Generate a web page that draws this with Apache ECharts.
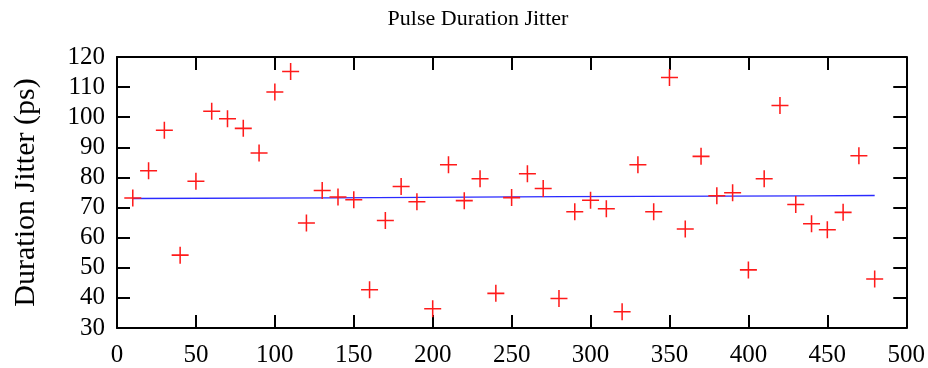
<!DOCTYPE html>
<html>
<head>
<meta charset="utf-8">
<script src="https://cdn.jsdelivr.net/npm/echarts@6/dist/echarts.min.js"></script>
<style>
  html, body { margin: 0; padding: 0; background: #fff; }
  #chart { width: 928px; height: 368px; }
  #err { position: absolute; left: 130px; top: 60px; color: #c00; font: 12px monospace; white-space: pre; }
</style>
</head>
<body>
<div id="chart"></div>
<div id="err"></div>
<script>
window.onerror = function (msg) { document.getElementById('err').textContent += msg + '\n'; };

// Pulse index (x) and measured duration jitter in ps (y)
const pulseIndex = [10, 20, 30, 40, 50, 60, 70, 80, 90, 100,
  110, 120, 130, 140, 150, 160, 170, 180, 190, 200,
  210, 220, 230, 240, 250, 260, 270, 280, 290, 300,
  310, 320, 330, 340, 350, 360, 370, 380, 390, 400,
  410, 420, 430, 440, 450, 460, 470, 480];
const jitterPs = [73.2, 82.2, 95.7, 54.2, 78.7, 102.0, 99.5, 96.3, 88.1, 108.4,
  115.2, 64.9, 75.7, 73.5, 72.6, 42.7, 65.7, 77.0, 71.9, 36.4,
  84.2, 72.3, 79.6, 41.5, 73.3, 81.2, 76.3, 39.8, 68.6, 72.4,
  69.6, 35.4, 84.2, 68.6, 113.2, 62.9, 87.0, 73.9, 74.9, 49.3,
  79.6, 103.9, 71.0, 64.6, 62.6, 68.4, 87.2, 46.3];

// Mean trend line
const meanX = [10, 135, 282, 437, 480];
const meanY = [73.0, 73.2, 73.6, 73.9, 74.0];

// Axis ranges
const xMin = 0, xMax = 500, xStep = 50;
const yMin = 30, yMax = 120, yStep = 10;

const titleText = 'Pulse Duration Jitter';
const yAxisTitle = 'Duration Jitter (ps)';

const FONT = '"Liberation Serif", "Times New Roman", serif';

const scatterData = pulseIndex.map((x, i) => [x, jitterPs[i]]);
const meanData = meanX.map((x, i) => [x, meanY[i]]);

const chart = echarts.init(document.getElementById('chart'));

// Four framing axes with inward ticks; only bottom and left carry labels
function frameAxis(kind, position, min, max, step, withLabels) {
  const axis = {
    type: 'value', position: position, min: min, max: max, interval: step,
    splitLine: { show: false },
    axisLine: { show: true, onZero: false, lineStyle: { color: '#000', width: 2 } },
    axisTick: { show: true, inside: true, length: 13, lineStyle: { color: '#000', width: 2 } },
    axisLabel: withLabels
      ? { show: true, color: '#000', fontFamily: FONT, fontSize: 25, margin: kind === 'x' ? 15 : 12 }
      : { show: false }
  };
  return axis;
}

const yLeft = frameAxis('y', 'left', yMin, yMax, yStep, true);
yLeft.name = yAxisTitle;
yLeft.nameLocation = 'middle';
yLeft.nameRotate = 90;
yLeft.nameGap = 76;
yLeft.nameTextStyle = { color: '#000', fontFamily: FONT, fontSize: 30 };

try {
  chart.setOption({
    animation: false,
    backgroundColor: '#fff',
    grid: { left: 117, right: 21, top: 57, bottom: 40 },
    graphic: [
      {
        type: 'text', x: 478, y: 19,
        style: { text: titleText, font: '22px ' + FONT, fill: '#000', textAlign: 'center', textVerticalAlign: 'middle' }
      }
    ],
    xAxis: [
      frameAxis('x', 'bottom', xMin, xMax, xStep, true),
      frameAxis('x', 'top', xMin, xMax, xStep, false)
    ],
    yAxis: [
      yLeft,
      frameAxis('y', 'right', yMin, yMax, yStep, false)
    ],
    series: [
      {
        type: 'line', data: meanData, xAxisIndex: 0, yAxisIndex: 0,
        showSymbol: false, symbol: 'none',
        lineStyle: { color: '#2a2aff', width: 1.3 }, z: 2
      },
      {
        type: 'scatter', data: scatterData, xAxisIndex: 0, yAxisIndex: 0,
        symbol: 'path://M-0.9,-10 L0.9,-10 L0.9,-0.9 L10,-0.9 L10,0.9 L0.9,0.9 L0.9,10 L-0.9,10 L-0.9,0.9 L-10,0.9 L-10,-0.9 L-0.9,-0.9 Z',
        symbolSize: 17,
        itemStyle: { color: '#ff1a1a', opacity: 1 }, z: 3
      }
    ]
  });
} catch (e) {
  document.getElementById('err').textContent += String(e && e.stack || e);
}
</script>
</body>
</html>
